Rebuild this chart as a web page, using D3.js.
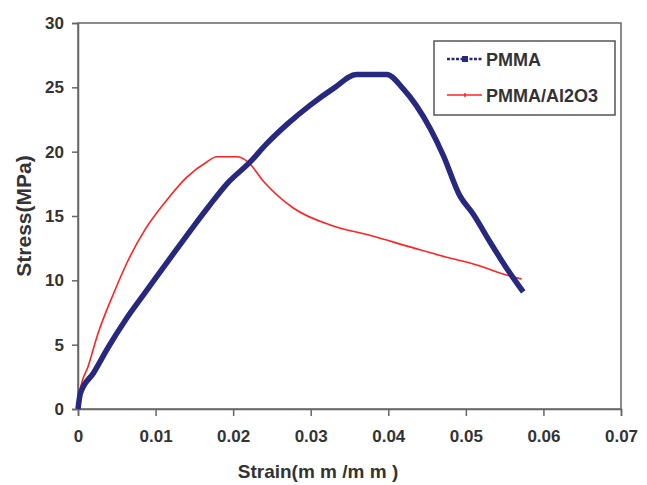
<!DOCTYPE html>
<html>
<head>
<meta charset="utf-8">
<title>Stress-Strain</title>
<script src="https://cdn.jsdelivr.net/npm/d3@7"></script>
<style>
  body { margin: 0; background: #fff; }
  text { font-family: "Liberation Sans", Arial, sans-serif; font-weight: bold; fill: #333; }
</style>
</head>
<body>
<script>
  // strain (mm/mm), stress (MPa)
  var pmma = [
    [0, 0], [0.0003, 1.2], [0.002, 2.8], [0.0039, 4.8], [0.0061, 6.9], [0.0086, 9.0],
    [0.0104, 10.5], [0.0127, 12.4], [0.0149, 14.2], [0.0168, 15.7], [0.0192, 17.5],
    [0.0222, 19.2], [0.0243, 20.6], [0.0269, 22.1], [0.0299, 23.6], [0.0329, 24.9],
    [0.0359, 26.0], [0.0398, 26.0], [0.0419, 24.9], [0.0436, 23.6], [0.0454, 21.8],
    [0.0471, 19.7], [0.0492, 16.6], [0.051, 15.1], [0.0531, 13.0], [0.0553, 10.9],
    [0.0574, 9.1]
  ];
  var pmmaAl2o3 = [
    [0, 0], [0.0003, 1.5], [0.0013, 3.3], [0.0026, 5.9], [0.0046, 9.0], [0.0065, 11.6],
    [0.0086, 13.9], [0.0114, 16.2], [0.014, 18.0], [0.0166, 19.2], [0.0179, 19.6],
    [0.0205, 19.6], [0.0219, 19.2], [0.0239, 17.7], [0.0278, 15.6], [0.0325, 14.3],
    [0.0376, 13.5], [0.0428, 12.6], [0.0475, 11.8], [0.0514, 11.2], [0.0548, 10.5],
    [0.0572, 10.1]
  ];
  var xTicks = [0, 0.01, 0.02, 0.03, 0.04, 0.05, 0.06, 0.07];
  var yTicks = [0, 5, 10, 15, 20, 25, 30];
  var seriesNames = ['PMMA', 'PMMA/Al2O3'];

  var width = 647, height = 485,
    plotL = 78, plotR = 621, plotT = 23, plotB = 409;

  var svg = d3.select('body').append('svg')
    .attr('width', width)
    .attr('height', height);

  var x = d3.scaleLinear().domain([0, 0.07]).range([plotL, plotR]);
  var y = d3.scaleLinear().domain([0, 30]).range([plotB, plotT]);

  // plot frame
  svg.append('rect')
    .attr('x', plotL).attr('y', plotT)
    .attr('width', plotR - plotL).attr('height', plotB - plotT)
    .attr('fill', 'none').attr('stroke', '#666').attr('stroke-width', 1.5);

  var xAxis = svg.append('g')
    .attr('transform', 'translate(0,' + plotB + ')')
    .call(d3.axisBottom(x).tickValues(xTicks).tickSize(7).tickPadding(14)
      .tickFormat(function (d) { return d === 0 ? '0' : d3.format('.2f')(d); }));
  var yAxis = svg.append('g')
    .attr('transform', 'translate(' + plotL + ',0)')
    .call(d3.axisLeft(y).tickValues(yTicks).tickSize(6).tickPadding(8));

  [xAxis, yAxis].forEach(function (g) {
    g.select('.domain').attr('stroke', '#666').attr('stroke-width', 1.5);
    g.selectAll('.tick line').attr('stroke', '#666').attr('stroke-width', 1.5);
    g.selectAll('.tick text')
      .style('font-family', '"Liberation Sans", Arial, sans-serif')
      .style('font-weight', 'bold')
      .style('font-size', '17px')
      .attr('fill', '#333');
  });

  // axis titles
  svg.append('text')
    .attr('x', 318).attr('y', 478)
    .attr('text-anchor', 'middle')
    .style('font-size', '19px')
    .text('Strain(m m /m m )');
  svg.append('text')
    .attr('transform', 'translate(31,216) rotate(-90)')
    .attr('text-anchor', 'middle')
    .style('font-size', '21px')
    .text('Stress(MPa)');

  var line = d3.line()
    .x(function (d) { return x(d[0]); })
    .y(function (d) { return y(d[1]); })
    .curve(d3.curveMonotoneX);

  svg.append('path')
    .datum(pmmaAl2o3)
    .attr('d', line)
    .attr('fill', 'none')
    .attr('stroke', '#f22')
    .attr('stroke-width', 1.6);

  svg.append('path')
    .datum(pmma)
    .attr('d', line)
    .attr('fill', 'none')
    .attr('stroke', '#27287f')
    .attr('stroke-width', 5.5)
    .attr('stroke-linejoin', 'round');

  // legend
  var legend = svg.append('g');
  legend.append('rect')
    .attr('x', 434).attr('y', 41)
    .attr('width', 181).attr('height', 74)
    .attr('fill', '#fff').attr('stroke', '#555').attr('stroke-width', 1.5);

  var colors = ['#27287f', '#f22'];
  seriesNames.forEach(function (name, i) {
    var ly = 59 + i * 36;
    legend.append('line')
      .attr('x1', 447).attr('x2', 482).attr('y1', ly).attr('y2', ly)
      .attr('stroke', colors[i])
      .attr('stroke-width', i === 0 ? 2.5 : 1.5)
      .attr('stroke-dasharray', i === 0 ? '3,1.5' : null);
    if (i === 0) {
      legend.append('rect')
        .attr('x', 462).attr('y', ly - 3).attr('width', 6).attr('height', 6)
        .attr('fill', colors[i]);
    } else {
      legend.append('line')
        .attr('x1', 465).attr('x2', 465).attr('y1', ly - 2).attr('y2', ly + 2)
        .attr('stroke', colors[i]).attr('stroke-width', 1.5);
    }
    legend.append('text')
      .attr('x', 486).attr('y', ly + 7)
      .style('font-size', '18px')
      .text(name);
  });
</script>
</body>
</html>
